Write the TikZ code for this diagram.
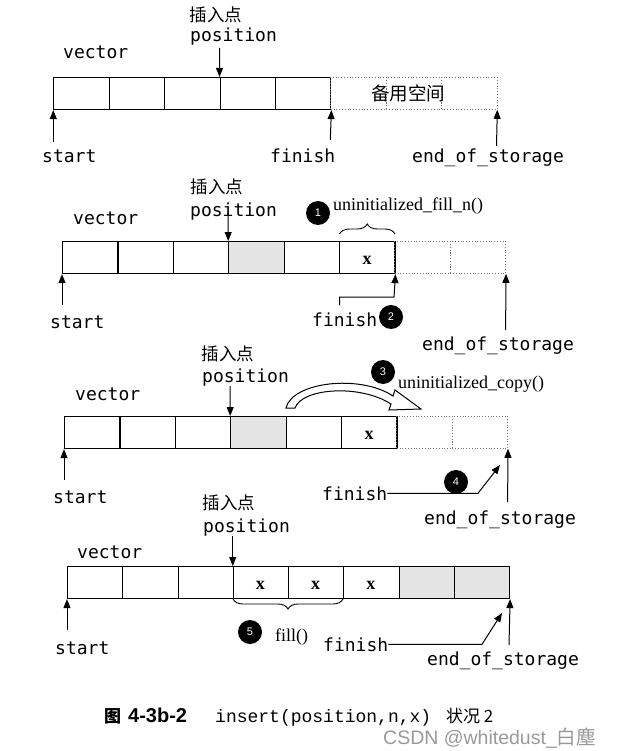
\documentclass[tikz,border=0pt]{standalone}
\usepackage{fontspec}
\setmainfont{Liberation Serif}
\newfontfamily\monof{DejaVu Sans Mono}
\newfontfamily\cjkf{Noto Sans CJK SC}
\newfontfamily\sansf{Liberation Sans}
\newfontfamily\courf{Liberation Mono}
\usetikzlibrary{arrows.meta,decorations.pathreplacing}
\begin{document}
\begin{tikzpicture}[x=1pt,y=-1pt,
  cell/.style={draw,line width=1.1pt,minimum width=55.4pt,minimum height=32pt,inner sep=0pt,anchor=north west},
  cellb/.style={cell,minimum width=55.25pt},
  spare/.style={draw=black!55,dotted,line width=0.8pt,minimum width=55.4pt,minimum height=32pt,inner sep=0pt,anchor=north west},
  speck/.style={fill=black!10},
  lbl/.style={font=\monof\fontsize{18}{18}\selectfont,inner sep=0pt,anchor=base west},
  cjk/.style={font=\cjkf\fontsize{17.5}{17.5}\selectfont,inner sep=0pt},
  ser/.style={font=\fontsize{18}{18}\selectfont,inner sep=0pt,anchor=base west},
  xl/.style={font=\bfseries\fontsize{18}{18}\selectfont,inner sep=0pt,anchor=base},
  arr/.style={-{Triangle[length=9pt,width=7pt]},line width=1pt},
  num/.style={circle,fill=black,text=white,minimum size=24pt,inner sep=0pt,font=\sansf\fontsize{11}{11}\selectfont},
  brc/.style={decorate,decoration={brace,amplitude=10pt},line width=0.9pt}
]
\useasboundingbox (0,0) rectangle (617,751);

% ---------------- diagram 1 ----------------
\foreach \i in {0,...,4} \node[cell] (a1c\i) at ({53.3+55.4*\i},77) {};
\foreach \i in {5,6,7} \node[spare] (a1c\i) at ({53.3+55.4*\i},77) {};
\node[cjk,font=\cjkf\fontsize{18.5}{18.5}\selectfont] (sp1) at (408,93) {备用空间};
\node[cjk] (ins1) at (216,15) {插入点};
\node[lbl] (pos1) at (190,42) {position};
\node[lbl] (vec1) at (63,59) {vector};
\node[lbl] (st1) at (42,163) {start};
\node[lbl] (fi1) at (270,163) {finish};
\node[lbl] (eo1) at (412,163) {end\_of\_storage};
\coordinate (p1) at (219.5,48);
\coordinate (s1) at (53.3,142);
\coordinate (f1) at (330.3,140);
\coordinate (e1) at (496.5,146);
\draw[arr] (p1) -- (a1c3.north west);
\draw[arr] (s1) -- (a1c0.south west);
\draw[arr] (f1) -- (a1c4.south east);
\draw[arr] (e1) -- (a1c7.south east);

% ---------------- diagram 2 ----------------
\foreach \i in {0,1,2,4,5} \node[cell] (a2c\i) at ({62+55.4*\i},241) {};
\node[cell,speck] (a2c3) at ({62+55.4*3},241) {};
\foreach \i in {6,7} \node[spare] (a2c\i) at ({62+55.4*\i},241) {};
\node[xl] (x2) at (367,264) {x};
\node[cjk] (ins2) at (217,187) {插入点};
\node[lbl] (pos2) at (190,216) {position};
\node[lbl] (vec2) at (73,225) {vector};
\node[num] (n1) at (318,213) {1};
\node[ser] (fn2) at (333,211) {uninitialized\_fill\_n()};
\draw[brc] (339.5,234) -- (395,234);
\node[lbl] (st2) at (50,328) {start};
\node[lbl] (fi2) at (312,326) {finish};
\node[num] (n2) at (391,317) {2};
\node[lbl] (eo2) at (422,350) {end\_of\_storage};
\coordinate (p2) at (228.2,213);
\coordinate (s2) at (62,305);
\coordinate (f2) at (339.5,305);
\coordinate (e2) at (505.6,330);
\draw[arr] (p2) -- (a2c3.north west);
\draw[arr] (s2) -- (a2c0.south west);
\draw[arr] (f2) -- (339.5,297) -- (394,297) -- (a2c5.south east);
\draw[arr] (e2) -- (a2c7.south east);

% ---------------- diagram 3 ----------------
\foreach \i in {0,1,2,4,5} \node[cell] (a3c\i) at ({64+55.4*\i},416) {};
\node[cell,speck] (a3c3) at ({64+55.4*3},416) {};
\foreach \i in {6,7} \node[spare] (a3c\i) at ({64+55.4*\i},416) {};
\node[xl] (x3) at (369,439) {x};
\node[cjk] (ins3) at (228,354) {插入点};
\node[lbl] (pos3) at (202,382) {position};
\node[lbl] (vec3) at (75,400) {vector};
\node[num] (n3) at (383,372) {3};
\node[ser] (cp3) at (398,388) {uninitialized\_copy()};
\draw[line width=1pt,fill=white] (286,408) .. controls (292,382) and (360,374) .. (393,396)
  -- (395,390) -- (421,409) -- (389,410) -- (391,404)
  .. controls (360,384) and (302,388) .. (295,408) -- cycle;
\node[lbl] (st3) at (53,503) {start};
\node[lbl] (fi3) at (322,500) {finish};
\node[num] (n4) at (456,482) {4};
\node[lbl] (eo3) at (424,524) {end\_of\_storage};
\coordinate (p3) at (230.2,386);
\coordinate (s3) at (64,480);
\coordinate (e3) at (507.6,502);
\coordinate (k3) at (478,495);
\coordinate (t3) at (500,465);
\draw[arr] (p3) -- (a3c3.north west);
\draw[arr] (s3) -- (a3c0.south west);
\draw[arr] (e3) -- (a3c7.south east);
\draw[arr] (fi3.east) -- (k3 |- fi3.east) -- (t3);

% ---------------- diagram 4 ----------------
\foreach \i in {0,1,2} \node[cellb] (a4c\i) at ({67+55.25*\i},566) {};
\node[cellb] (a4c3) at ({67+55.25*3},566) {};
\node[cellb] (a4c4) at ({67+55.25*4},566) {};
\node[cellb] (a4c5) at ({67+55.25*5},566) {};
\foreach \i in {6,7} \node[cellb,speck] (a4c\i) at ({67+55.25*\i},566) {};
\node[xl] (x4a) at (260.4,589) {x};
\node[xl] (x4b) at (315.6,589) {x};
\node[xl] (x4c) at (370.9,589) {x};
\node[cjk] (ins4) at (229,503) {插入点};
\node[lbl] (pos4) at (203,532) {position};
\node[lbl] (vec4) at (77,558) {vector};
\draw[brc] (343,599) -- (233,599);
\node[num] (n5) at (250,632) {5};
\node[ser] (fl4) at (275,641) {fill()};
\node[lbl] (st4) at (55,654) {start};
\node[lbl] (fi4) at (323,651) {finish};
\node[lbl] (eo4) at (427,665) {end\_of\_storage};
\coordinate (p4) at (232.75,536);
\coordinate (s4) at (67,630);
\coordinate (e4) at (509,645);
\coordinate (k4) at (482,642);
\coordinate (t4) at (502,613);
\draw[arr] (p4) -- (a4c3.north west);
\draw[arr] (s4) -- (a4c0.south west);
\draw[arr] (e4) -- (a4c7.south east);
\draw[arr] (fi4.east) -- (k4 |- fi4.east) -- (t4);

% ---------------- caption ----------------
\node[inner sep=0pt,anchor=base west,font=\cjkf\bfseries\fontsize{17}{17}\selectfont] (cap1) at (104,722) {图};
\node[inner sep=0pt,anchor=base west,font=\sansf\bfseries\fontsize{20}{20}\selectfont] (cap2) at (128,722) {4-3b-2};
\node[inner sep=0pt,anchor=base west,font=\courf\fontsize{18}{18}\selectfont] (cap3) at (215,722) {insert(position,n,x)};
\node[inner sep=0pt,anchor=base west,font=\cjkf\fontsize{17}{17}\selectfont] (cap4) at (446,722) {状况 2};
\node[inner sep=0pt,anchor=base west,font=\sansf\fontsize{19.5}{19.5}\selectfont,text=black!40] (wm) at (383,744) {CSDN @whitedust\_{\cjkf 白塵}};
\end{tikzpicture}
\end{document}
